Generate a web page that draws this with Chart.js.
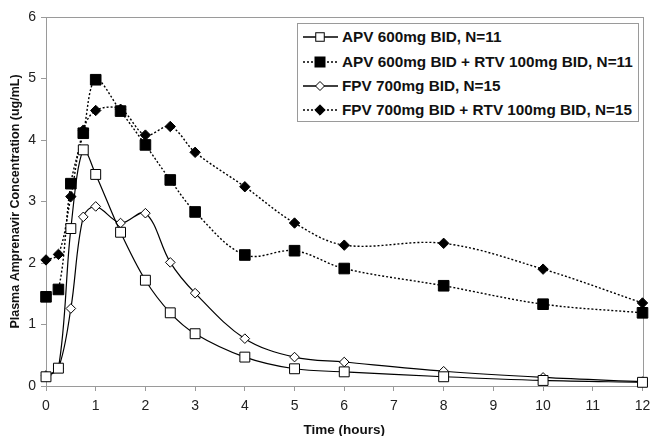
<!DOCTYPE html>
<html>
<head>
<meta charset="utf-8">
<script src="https://cdn.jsdelivr.net/npm/chart.js@4/dist/chart.umd.min.js"></script>
<style>
  html, body { margin: 0; padding: 0; background: #fff; }
  #wrap { position: relative; width: 651px; height: 436px; }
  #c { position: absolute; left: 0; top: 0; }
  #legend {
    position: absolute; left: 297px; top: 23px; width: 342px; height: 99px;
    border: 1px solid #9a9a9a; background: #fff; box-sizing: border-box;
    font-family: "Liberation Sans", Arial, sans-serif; font-weight: bold; font-size: 15.3px; color: #111;
  }
  .row { position: absolute; left: 0; height: 24px; display: flex; align-items: center; white-space: nowrap; }
  .row svg { margin-left: 5px; margin-right: 4px; }
</style>
</head>
<body>
<div id="wrap">
  <canvas id="c" width="651" height="436"></canvas>
  <div id="legend"></div>
</div>
<script>
const times = [0, 0.25, 0.5, 0.75, 1, 1.5, 2, 2.5, 3, 4, 5, 6, 8, 10, 12];
const apv    = [0.15, 0.29, 2.56, 3.84, 3.44, 2.50, 1.72, 1.19, 0.85, 0.47, 0.28, 0.23, 0.15, 0.09, 0.06];
const apvRtv = [1.45, 1.57, 3.29, 4.11, 4.98, 4.47, 3.92, 3.35, 2.83, 2.13, 2.20, 1.91, 1.63, 1.33, 1.19];
const fpv    = [0.17, 0.29, 1.26, 2.75, 2.92, 2.65, 2.81, 2.01, 1.51, 0.77, 0.47, 0.39, 0.24, 0.14, 0.07];
const fpvRtv = [2.05, 2.14, 3.08, 4.16, 4.48, 4.50, 4.08, 4.22, 3.80, 3.24, 2.65, 2.29, 2.32, 1.90, 1.35];
const seriesNames = ["APV 600mg BID, N=11", "APV 600mg BID + RTV 100mg BID, N=11", "FPV 700mg BID, N=15", "FPV 700mg BID + RTV 100mg BID, N=15"];
const xTicks = [0,1,2,3,4,5,6,7,8,9,10,11,12];
const yTicks = [0,1,2,3,4,5,6];
const xTitle = "Time (hours)";
const yTitle = "Plasma Amprenavir Concentration (ug/mL)";

const pts = arr => times.map((t, i) => ({x: t, y: arr[i]}));
const styles = [
  {shape:'rect',    fill:'#fff', r:7,   dash:[]},
  {shape:'rect',    fill:'#000', r:7.5, dash:[2,2]},
  {shape:'rectRot', fill:'#fff', r:4.8, dash:[]},
  {shape:'rectRot', fill:'#000', r:5.2, dash:[2,2]}
];
const values = [apv, apvRtv, fpv, fpvRtv];
const datasets = values.map((v, i) => ({
  label: seriesNames[i],
  data: pts(v),
  borderColor: '#000',
  borderWidth: i % 2 ? 1.4 : 1.2,
  borderDash: styles[i].dash,
  tension: 0.35,
  pointStyle: styles[i].shape,
  pointRadius: styles[i].r,
  pointBackgroundColor: styles[i].fill,
  pointBorderColor: '#000',
  pointBorderWidth: 1,
  clip: false,
  fill: false
}));

const frame = {
  id: 'frame',
  beforeDatasetsDraw(chart) {
    const a = chart.chartArea, ctx = chart.ctx;
    ctx.save();
    ctx.strokeStyle = '#9a9a9a';
    ctx.lineWidth = 1;
    ctx.strokeRect(Math.round(a.left) + 0.5, Math.round(a.top) + 0.5, Math.round(a.right - a.left), Math.round(a.bottom - a.top));
    ctx.restore();
  }
};

const fontFam = '"Liberation Sans", Arial, sans-serif';
new Chart(document.getElementById('c'), {
  type: 'line',
  data: { datasets },
  options: {
    responsive: false, animation: false, devicePixelRatio: 1,
    layout: { padding: { top: 17, right: 8, left: 0, bottom: 0 } },
    plugins: { legend: { display: false }, tooltip: { enabled: false } },
    scales: {
      x: {
        type: 'linear', min: 0, max: 12,
        afterBuildTicks: s => { s.ticks = xTicks.map(v => ({value: v})); },
        afterFit: s => { s.height = 50; s.paddingLeft = 0; s.paddingRight = 0; },
        grid: { drawOnChartArea: false, drawTicks: true, tickLength: 5, color: '#9a9a9a' },
        border: { display: true, color: '#9a9a9a' },
        ticks: { color: '#222', font: { family: fontFam, size: 14 }, padding: 7, maxRotation: 0 },
        title: { display: true, text: xTitle, color: '#111', font: { family: fontFam, size: 13.5, weight: 'bold', lineHeight: 0.9 }, padding: { top: 0, bottom: 0 } }
      },
      y: {
        type: 'linear', min: 0, max: 6,
        afterBuildTicks: s => { s.ticks = yTicks.map(v => ({value: v})); },
        afterFit: s => { s.width = 46; s.paddingTop = 0; s.paddingBottom = 0; },
        grid: { drawOnChartArea: false, drawTicks: true, tickLength: 5, color: '#9a9a9a' },
        border: { display: true, color: '#9a9a9a' },
        ticks: { color: '#222', font: { family: fontFam, size: 14 }, padding: 5 },
        title: { display: true, text: yTitle, color: '#111', font: { family: fontFam, size: 12.5, weight: 'bold', lineHeight: 1.2 }, padding: { top: 8, bottom: 0 } }
      }
    }
  },
  plugins: [frame]
});

// HTML legend
const leg = document.getElementById('legend');
const rowTops = [1, 25.5, 50, 74];
seriesNames.forEach((name, i) => {
  const row = document.createElement('div');
  row.className = 'row';
  row.style.top = rowTops[i] + 'px';
  const st = styles[i];
  let marker;
  if (st.shape === 'rect') {
    const s = i === 0 ? 8.5 : 10;
    marker = `<rect x="${17 - s/2}" y="${12 - s/2}" width="${s}" height="${s}" fill="${st.fill}" stroke="#000" stroke-width="1"/>`;
  } else {
    const r = i === 2 ? 4.5 : 5.2;
    marker = `<polygon points="17,${12 - r} ${17 + r},12 17,${12 + r} ${17 - r},12" fill="${st.fill}" stroke="#000" stroke-width="1"/>`;
  }
  const dash = st.dash.length ? 'stroke-dasharray="2,2"' : '';
  row.innerHTML = `<svg width="35" height="24"><line x1="0" y1="12" x2="35" y2="12" stroke="#000" stroke-width="1.3" ${dash}/>${marker}</svg><span>${name}</span>`;
  leg.appendChild(row);
});
</script>
</body>
</html>
